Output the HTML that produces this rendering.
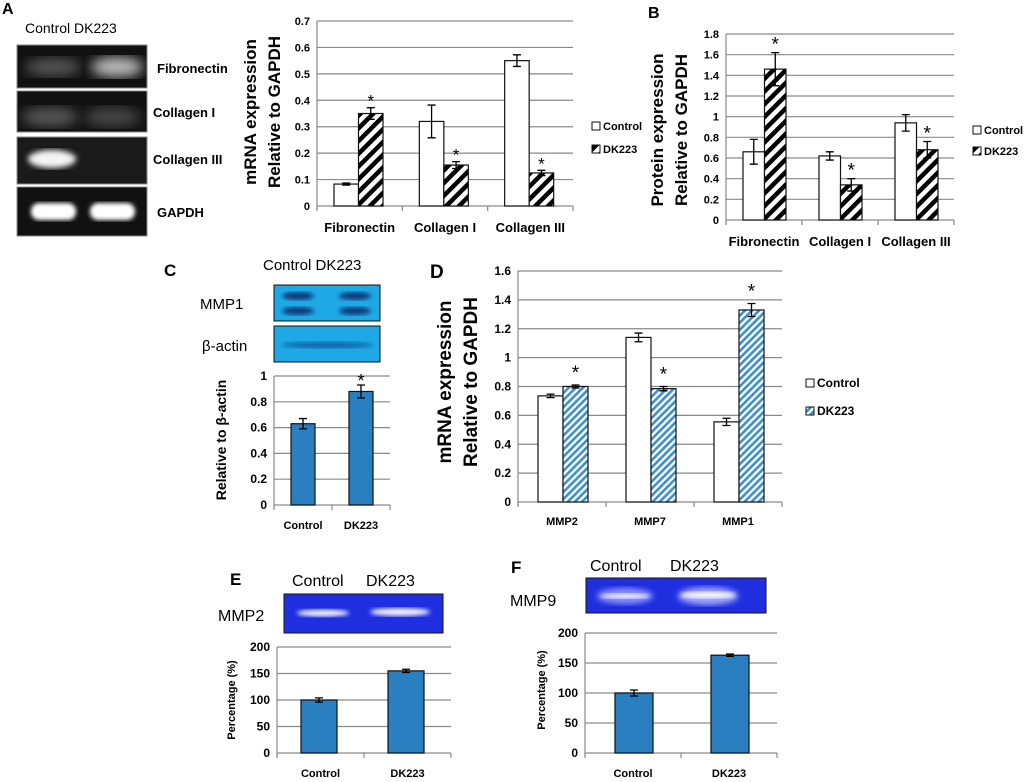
<!DOCTYPE html>
<html><head><meta charset="utf-8">
<style>
html,body{margin:0;padding:0;background:#fff;}
svg{display:block;font-family:"Liberation Sans",sans-serif;}
.lab{font-weight:bold;}
</style></head>
<body>
<svg id="fig" width="1024" height="782" viewBox="0 0 1024 782" xmlns="http://www.w3.org/2000/svg">
<defs>
<pattern id="hatchBlack" patternUnits="userSpaceOnUse" width="9" height="9" patternTransform="rotate(45)">
<rect width="9" height="9" fill="#fff"/><rect x="0" y="0" width="4.5" height="9" fill="#000"/>
</pattern>
<pattern id="hatchBlue" patternUnits="userSpaceOnUse" width="5" height="5" patternTransform="rotate(45)">
<rect width="5" height="5" fill="#fff"/><rect x="0" y="0" width="2.6" height="5" fill="#3b8fd2"/>
</pattern>
<filter id="blur3"><feGaussianBlur stdDeviation="3"/></filter>
<filter id="blur2"><feGaussianBlur stdDeviation="2"/></filter>
<filter id="blur6"><feGaussianBlur stdDeviation="6"/></filter>
</defs>

<!-- Panel A gels -->
<g>
<text x="2" y="14" class="lab" font-size="16">A</text>
<text x="25" y="33" font-size="14">Control  DK223</text>
<rect x="17" y="45" width="130" height="43" fill="#111" stroke="#888"/>
<ellipse cx="53" cy="67" rx="28" ry="9" fill="#555" filter="url(#blur6)"/>
<ellipse cx="117" cy="67" rx="26" ry="10" fill="#bbb" filter="url(#blur6)"/>
<rect x="17" y="91" width="130" height="41" fill="#111" stroke="#888"/>
<ellipse cx="50" cy="117" rx="28" ry="10" fill="#555" filter="url(#blur6)"/>
<ellipse cx="112" cy="117" rx="28" ry="10" fill="#444" filter="url(#blur6)"/>
<rect x="17" y="137" width="130" height="47" fill="#1a1a1a" stroke="#888"/>
<ellipse cx="52" cy="159" rx="24" ry="9" fill="#f4f4f4" filter="url(#blur3)"/>
<rect x="17" y="187" width="130" height="49" fill="#111" stroke="#888"/>
<rect x="31" y="203" width="45" height="17" rx="8" fill="#fff" filter="url(#blur2)"/>
<rect x="90" y="203" width="45" height="17" rx="8" fill="#fff" filter="url(#blur2)"/>
<text x="157" y="73" class="lab" font-size="13">Fibronectin</text>
<text x="153" y="117" class="lab" font-size="13">Collagen I</text>
<text x="153" y="164" class="lab" font-size="13">Collagen III</text>
<text x="157" y="217" class="lab" font-size="13">GAPDH</text>
</g>

<text x="648" y="18" class="lab" font-size="16">B</text>

<!-- Panel C blots -->
<g>
<text x="164" y="276" class="lab" font-size="17">C</text>
<text x="263" y="270" font-size="15">Control DK223</text>
<text x="200" y="309" font-size="15">MMP1</text>
<text x="202" y="351" font-size="15">β-actin</text>
<rect x="274" y="285" width="106" height="36" fill="#1fa8e6" stroke="#111"/>
<ellipse cx="298" cy="296" rx="16" ry="4" fill="#0a3a7a" filter="url(#blur2)"/>
<ellipse cx="298" cy="311" rx="16" ry="4" fill="#0a3a7a" filter="url(#blur2)"/>
<ellipse cx="355" cy="296" rx="16" ry="4" fill="#0a3a7a" filter="url(#blur2)"/>
<ellipse cx="355" cy="311" rx="16" ry="4" fill="#0a3a7a" filter="url(#blur2)"/>
<rect x="274" y="326" width="106" height="36" fill="#1fa8e6" stroke="#111"/>
<ellipse cx="327" cy="345" rx="46" ry="3" fill="#1060a8" filter="url(#blur2)"/>
</g>

<text x="430" y="278" class="lab" font-size="19">D</text>

<!-- Panel E/F gels -->
<g>
<text x="230" y="585" class="lab" font-size="17">E</text>
<text x="292" y="586" font-size="16">Control</text>
<text x="366" y="586" font-size="16">DK223</text>
<text x="218" y="621" font-size="16">MMP2</text>
<rect x="284" y="594" width="159" height="39" fill="#1f2fe0" stroke="#111"/>
<ellipse cx="323" cy="613" rx="26" ry="3.5" fill="#f0f0ff" filter="url(#blur2)"/>
<ellipse cx="400" cy="612" rx="30" ry="4" fill="#f0f0ff" filter="url(#blur2)"/>
<text x="511" y="573" class="lab" font-size="17">F</text>
<text x="590" y="571" font-size="16">Control</text>
<text x="670" y="571" font-size="16">DK223</text>
<text x="510" y="606" font-size="16">MMP9</text>
<rect x="586" y="578" width="180" height="35" fill="#1f2fe0" stroke="#111"/>
<ellipse cx="625" cy="596" rx="28" ry="8" fill="#8a90ff" filter="url(#blur3)"/>
<ellipse cx="708" cy="596" rx="30" ry="9" fill="#a0a6ff" filter="url(#blur3)"/>
<ellipse cx="625" cy="596" rx="24" ry="2.5" fill="#f4f4ff" filter="url(#blur2)"/>
<ellipse cx="708" cy="595" rx="27" ry="3" fill="#ffffff" filter="url(#blur2)"/>
</g>
<g id="charts"></g>
</svg>
<script>
// ---- Chart data ----
const catsA=['Fibronectin','Collagen I','Collagen III'];
const ctrlA=[0.083,0.32,0.55];
const ctrlErrA=[0.004,0.062,0.022];
const dkA=[0.35,0.155,0.125];
const dkErrA=[0.022,0.013,0.01];
const ticksA=[0,0.1,0.2,0.3,0.4,0.5,0.6,0.7];

const catsB=['Fibronectin','Collagen I','Collagen III'];
const ctrlB=[0.66,0.62,0.94];
const ctrlErrB=[0.12,0.04,0.08];
const dkB=[1.46,0.34,0.68];
const dkErrB=[0.16,0.06,0.08];
const ticksB=[0,0.2,0.4,0.6,0.8,1,1.2,1.4,1.6,1.8];

const catsC=['Control','DK223'];
const valsC=[0.63,0.88];
const errC=[0.04,0.05];
const ticksC=[0,0.2,0.4,0.6,0.8,1];

const catsD=['MMP2','MMP7','MMP1'];
const ctrlD=[0.735,1.14,0.555];
const ctrlErrD=[0.012,0.03,0.025];
const dkD=[0.80,0.785,1.33];
const dkErrD=[0.01,0.015,0.045];
const ticksD=[0,0.2,0.4,0.6,0.8,1,1.2,1.4,1.6];

const catsE=['Control','DK223'];
const valsE=[100,155];
const errE=[4,3];
const ticksE=[0,50,100,150,200];

const catsF=['Control','DK223'];
const valsF=[100,163];
const errF=[5,2];
const ticksF=[0,50,100,150,200];

const NS='http://www.w3.org/2000/svg';
const root=document.getElementById('charts');
function mk(tag,attrs,parent){const e=document.createElementNS(NS,tag);for(const k in attrs)e.setAttribute(k,attrs[k]);(parent||root).appendChild(e);return e;}

function chart(c){
  const g=mk('g',{});
  
  
  const max=c.ticks[c.ticks.length-1];
  const y=v=>c.y0-(v/max)*(c.y0-c.yTop);
  const gw=(c.x1-c.x0)/c.cats.length;
  c.ticks.forEach(t=>{
    const ln=mk('line',{x1:c.x0,x2:c.x1,y1:y(t),y2:y(t),stroke:'#8a8a8a','stroke-width':1.2},g);
    
    
    const tx=mk('text',{x:c.x0-7,y:y(t)+4,'font-size':c.tf,'font-weight':'bold','text-anchor':'end'},g);
    tx.textContent=String(t);
    
    
  });
  const ax=mk('line',{x1:c.x0,x2:c.x0,y1:c.yTop,y2:c.y0+4,stroke:'#8a8a8a','stroke-width':1.2},g);
  
  
  for(let i=0;i<=c.cats.length;i++){
    const tk=mk('line',{x1:c.x0+gw*i,x2:c.x0+gw*i,y1:c.y0,y2:c.y0+5,stroke:'#8a8a8a','stroke-width':1.2},g);
    
    
  }
  c.cats.forEach((cat,i)=>{
    const tx=mk('text',{x:c.x0+gw*(i+0.5),y:c.labY,'font-size':c.cf,'font-weight':'bold','text-anchor':'middle'},g);
    tx.textContent=cat;
    
    
    c.series.forEach((s,si)=>{
      const bx=c.x0+gw*i+c.off+si*c.bw;
      const v=s.vals[i];
      const r=mk('rect',{x:bx,y:y(v),width:c.bw,height:c.y0-y(v),fill:s.fill,stroke:s.stroke||'#111','stroke-width':1.2},g);
      
      
      const e=s.errs[i], cx=bx+c.bw/2;
      const eb=mk('path',{d:`M${cx-4},${y(v+e)}H${cx+4}M${cx},${y(v+e)}V${y(v-e)}M${cx-4},${y(v-e)}H${cx+4}`,stroke:'#000','stroke-width':1.3,fill:'none'},g);
      
      
      if(s.star){
        const st=mk('text',{x:cx,y:y(v+e)-c.starGap,'font-size':c.sf,'text-anchor':'middle'},g);
        st.textContent='*';
        
        
      }
    });
  });
  c.titles.forEach(t=>{
    const tx=mk('text',{x:t.x,y:t.y,'font-size':t.fs,'font-weight':'bold','text-anchor':'middle',transform:`rotate(-90 ${t.x} ${t.y})`},g);
    tx.textContent=t.text;
    
    
  });
  if(c.legend){
    c.series.forEach((s,si)=>{
      const ly=c.legend.y+si*c.legend.dy;
      const r=mk('rect',{x:c.legend.x,y:ly-4,width:8,height:8,fill:s.fill,stroke:'#111','stroke-width':1},g);
      
      
      const tx=mk('text',{x:c.legend.x+11,y:ly+4,'font-size':c.legend.fs,'font-weight':'bold'},g);
      tx.textContent=s.label;
      
      
    });
  }
}
chart({name:'chart-a-mrna',x0:317,x1:573,y0:206,yTop:21,ticks:ticksA,cats:catsA,bw:24.5,off:17,labY:232,tf:11,cf:13,sf:17,starGap:1,
  series:[{key:'control',label:'Control',vals:ctrlA,errs:ctrlErrA,fill:'#fff'},{key:'dk223',label:'DK223',vals:dkA,errs:dkErrA,fill:'url(#hatchBlack)',star:true}],
  titles:[{x:256,y:112,text:'mRNA expression',fs:17},{x:280,y:112,text:'Relative to GAPDH',fs:17}],
  legend:{x:592,y:126,dy:23,fs:11}});
chart({name:'chart-b-protein',x0:726,x1:954,y0:220,yTop:34,ticks:ticksB,cats:catsB,bw:21.5,off:17,labY:246,tf:11,cf:13,sf:19,starGap:2,
  series:[{key:'control',label:'Control',vals:ctrlB,errs:ctrlErrB,fill:'#fff'},{key:'dk223',label:'DK223',vals:dkB,errs:dkErrB,fill:'url(#hatchBlack)',star:true}],
  titles:[{x:663,y:130,text:'Protein expression',fs:17},{x:687,y:130,text:'Relative to GAPDH',fs:17}],
  legend:{x:973,y:130,dy:21,fs:11}});
chart({name:'chart-c-mmp1',x0:274,x1:390,y0:505,yTop:376,ticks:ticksC,cats:catsC,bw:24,off:17,labY:529,tf:12,cf:11,sf:18,starGap:-4,
  series:[{key:'value',label:'',vals:valsC,errs:errC,fill:'#2a7fc0',star:false}],
  titles:[{x:226,y:440,text:'Relative to β-actin',fs:14}]});
// star on DK223 bar in C
(function(){const max=ticksC[ticksC.length-1];const yy=505-((valsC[1]+errC[1])/max)*(505-376);const gw=(390-274)/catsC.length;
 const st=mk('text',{x:274+gw+17+12,y:yy+2,'font-size':18,'text-anchor':'middle'});st.textContent='*';
 
 })();
chart({name:'chart-d-mmp',x0:518,x1:782,y0:502,yTop:271,ticks:ticksD,cats:catsD,bw:25,off:20,labY:525,tf:12,cf:11,sf:19,starGap:6,
  series:[{key:'control',label:'Control',vals:ctrlD,errs:ctrlErrD,fill:'#fff'},{key:'dk223',label:'DK223',vals:dkD,errs:dkErrD,fill:'url(#hatchBlue)',star:true}],
  titles:[{x:451,y:382,text:'mRNA expression',fs:19},{x:477,y:382,text:'Relative to GAPDH',fs:19}],
  legend:{x:806,y:383,dy:28,fs:12}});
chart({name:'chart-e-mmp2',x0:277,x1:451,y0:753,yTop:647,ticks:ticksE,cats:catsE,bw:36,off:24,labY:777,tf:12,cf:11,sf:16,starGap:4,
  series:[{key:'value',label:'',vals:valsE,errs:errE,fill:'#2a7fc0'}],
  titles:[{x:235,y:700,text:'Percentage (%)',fs:11}]});
chart({name:'chart-f-mmp9',x0:585,x1:777,y0:753,yTop:633,ticks:ticksF,cats:catsF,bw:38,off:30,labY:777,tf:12,cf:11,sf:16,starGap:4,
  series:[{key:'value',label:'',vals:valsF,errs:errF,fill:'#2a7fc0'}],
  titles:[{x:545,y:690,text:'Percentage (%)',fs:11}]});
</script>
</body></html>
